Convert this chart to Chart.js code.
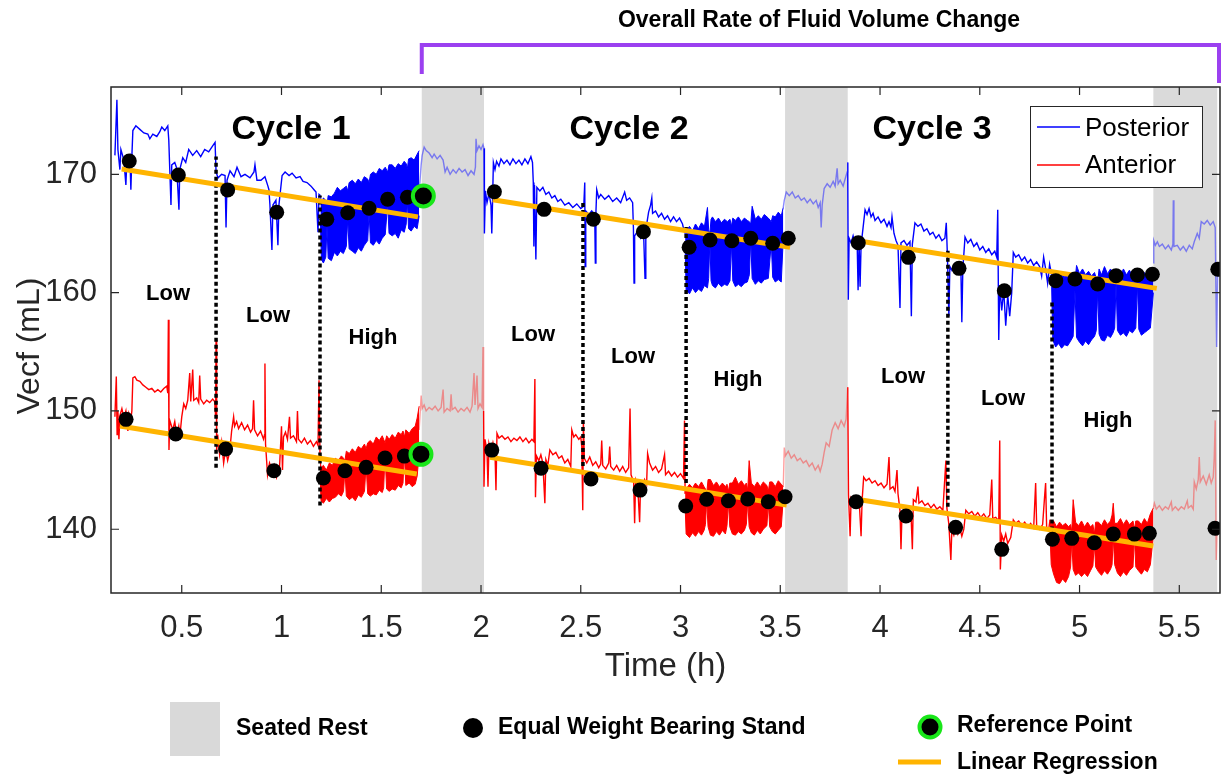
<!DOCTYPE html>
<html>
<head>
<meta charset="utf-8">
<script src="https://cdn.jsdelivr.net/npm/chart.js@4/dist/chart.umd.min.js"></script>
<style>
  body { margin: 0; background: #fff; }
  canvas { display: block; }
</style>
</head>
<body>
<canvas id="vecfChart" width="1225" height="775"></canvas>
<script>
// axis ticks
const xTicks = [0.5, 1, 1.5, 2, 2.5, 3, 3.5, 4, 4.5, 5, 5.5];
const yTicks = [140, 150, 160, 170];

// seated rest periods (h)
const restStart = [1.703, 3.524, 5.37];
const restEnd = [2.015, 3.838, 5.69];

// posterior Vecf trace [time h, mL]
const posteriorC1 = [
  [0.165,171.6],[0.175,176.3],[0.18,172.1],[0.19,170.4],[0.195,172.1],[0.21,171.2],[0.22,169.1],[0.225,171.2],[0.24,171.6],[0.245,168.7],
  [0.25,171.5],[0.255,173.7],[0.27,174.1],[0.29,173.8],[0.31,173.5],[0.33,173.4],[0.34,173.0],[0.355,173.4],[0.375,173.2],[0.39,173.6],
  [0.40,174.0],[0.415,173.7],[0.43,174.1],[0.435,172.9],[0.44,170.4],[0.446,167.4],[0.45,170.8],[0.465,171.0],[0.475,170.5],[0.486,167.0],
  [0.49,170.4],[0.505,171.4],[0.52,171.0],[0.535,172.1],[0.555,171.6],[0.575,172.0],[0.595,171.5],[0.615,172.1],[0.635,171.9],[0.655,172.4],
  [0.667,172.7],[0.672,170.2],[0.682,169.7],[0.70,170.0],[0.717,169.9],[0.722,165.5],[0.727,169.5],[0.742,170.3],[0.762,169.8],[0.777,170.6],
  [0.797,169.8],[0.817,170.0],[0.842,169.7],[0.862,170.2],[0.867,170.8],[0.877,169.5],[0.897,169.5],[0.917,169.8],[0.932,169.0],[0.937,168.7],
  [0.942,167.4],[0.952,163.6],[0.957,167.4],[0.972,167.8],[0.982,164.0],[0.987,167.4],[1.003,169.9],[1.018,170.2],[1.038,169.9],[1.053,170.1],
  [1.073,169.7],[1.093,169.8],[1.108,169.4],[1.128,169.3],[1.148,169.0],[1.163,168.7],[1.173,168.5],[1.183,165.1],[1.188,168.3],[1.195,168.2]
];
// high-load stands: [time, top, bottom]
const posteriorHighC1 = [
  [1.195,168.2,166.0],[1.20,167.6,162.8],[1.21,168.0,162.5],[1.222,167.8,163.0],[1.228,167.4,165.6],[1.234,168.2,162.9],[1.25,168.1,162.7],
  [1.265,168.4,163.4],[1.28,168.9,163.1],[1.295,168.6,163.5],[1.31,168.8,163.3],[1.325,169.0,163.9],[1.332,168.6,166.2],[1.339,169.3,163.7],
  [1.355,169.5,163.5],[1.37,169.2,163.3],[1.385,169.6,163.8],[1.40,169.3,163.5],[1.415,169.8,164.0],[1.432,169.6,164.4],[1.439,169.3,166.8],
  [1.446,170.0,164.2],[1.46,170.2,164.0],[1.475,170.0,164.4],[1.49,170.5,164.1],[1.505,170.3,164.6],[1.52,170.6,164.9],[1.532,170.2,167.5],
  [1.539,170.8,165.0],[1.555,170.8,164.8],[1.57,170.5,165.0],[1.585,170.9,164.6],[1.60,170.7,165.3],[1.615,171.1,165.1],[1.625,170.9,165.8],
  [1.631,170.5,167.7],[1.637,171.3,165.4],[1.65,171.4,165.2],[1.665,171.2,165.6],[1.68,171.7,165.4],[1.69,172.0,166.5]
];
const posteriorRest1 = [
  [1.69,168.5],[1.70,170.8],[1.705,171.6],[1.715,172.3],[1.725,172.0],[1.74,171.8],[1.755,171.4],[1.765,171.7],[1.78,171.3],[1.795,171.6],
  [1.81,171.2],[1.82,170.2],[1.83,170.6],[1.845,170.0],[1.86,170.4],[1.875,170.1],[1.89,170.5],[1.905,170.2],[1.92,170.4],[1.935,169.9],
  [1.95,170.3],[1.965,170.0],[1.972,170.6],[1.975,173.0],[1.98,172.0],[1.99,172.4],[2.0,172.1],[2.01,172.5],[2.015,172.2]
];
const posteriorC2 = [
  [2.015,172.2],[2.017,165.0],[2.022,168.6],[2.03,167.6],[2.04,168.4],[2.05,167.4],[2.054,165.0],[2.058,167.8],[2.062,171.0],[2.07,170.4],
  [2.078,171.1],[2.09,170.7],[2.10,171.3],[2.115,170.9],[2.13,171.2],[2.145,170.8],[2.16,171.3],[2.175,170.9],[2.19,171.2],[2.205,170.8],
  [2.22,171.3],[2.235,170.9],[2.25,171.5],[2.258,171.0],[2.262,169.3],[2.265,163.9],[2.268,169.1],[2.275,162.8],[2.28,168.9],[2.295,168.6],
  [2.31,168.9],[2.325,168.3],[2.34,168.5],[2.355,168.0],[2.37,168.2],[2.385,167.7],[2.40,167.9],[2.42,167.4],[2.44,167.6],[2.46,167.2],
  [2.48,167.5],[2.50,167.1],[2.515,167.3],[2.52,169.3],[2.522,162.2],[2.525,166.9],[2.54,166.6],[2.555,166.9],[2.57,166.5],[2.573,162.5],
  [2.576,166.8],[2.58,168.7],[2.59,168.0],[2.60,168.3],[2.62,167.9],[2.64,168.2],[2.66,167.7],[2.68,168.0],[2.70,167.6],[2.72,168.5],
  [2.73,167.8],[2.745,168.0],[2.76,167.6],[2.764,165.4],[2.767,160.8],[2.77,164.8],[2.785,165.2],[2.80,164.6],[2.815,165.0],[2.822,161.2],
  [2.826,165.3],[2.84,166.8],[2.85,167.4],[2.856,168.0],[2.86,166.7],[2.875,166.9],[2.89,166.4],[2.905,166.7],[2.92,166.2],[2.935,166.5],
  [2.95,166.0],[2.965,166.4],[2.98,166.0],[2.995,166.3],[3.01,165.8],[3.018,165.2],[3.023,165.0]
];
const posteriorHighC2 = [
  [3.023,165.0,164.0],[3.028,165.3,160.2],[3.045,165.6,159.9],[3.06,165.2,160.4],[3.075,165.8,160.0],[3.09,165.4,160.3],[3.105,165.9,160.1],
  [3.12,165.6,160.6],[3.135,167.2,160.4],[3.141,165.3,161.2],[3.147,165.0,164.3],[3.153,166.2,161.0],[3.16,166.4,160.6],[3.175,166.0,160.4],
  [3.19,166.3,160.8],[3.205,165.9,160.5],[3.22,166.2,160.7],[3.235,166.0,160.6],[3.248,166.2,161.0],[3.255,165.6,164.2],[3.262,166.3,161.0],
  [3.275,166.1,160.5],[3.29,166.4,160.7],[3.305,166.0,160.5],[3.32,166.3,160.8],[3.335,166.1,160.9],[3.345,166.0,161.5],[3.352,165.8,164.5],
  [3.359,167.3,161.2],[3.375,166.2,160.7],[3.39,166.5,161.0],[3.405,166.2,160.8],[3.42,166.6,161.1],[3.44,166.3,161.2],[3.455,166.0,164.2],
  [3.462,166.5,161.3],[3.475,166.4,160.9],[3.49,166.8,161.1],[3.505,166.5,160.9],[3.515,167.2,164.6]
];
const posteriorRest2 = [
  [3.515,167.2],[3.52,167.8],[3.53,168.5],[3.545,168.2],[3.56,168.5],[3.575,168.0],[3.59,168.2],[3.605,167.8],[3.62,168.0],[3.635,167.6],
  [3.65,167.9],[3.665,167.5],[3.68,167.8],[3.69,167.2],[3.70,167.6],[3.705,165.5],[3.71,167.4],[3.72,168.8],[3.735,169.2],[3.75,168.9],
  [3.765,169.4],[3.775,169.0],[3.785,170.5],[3.79,169.2],[3.80,169.5],[3.815,169.0],[3.825,169.6],[3.835,170.2],[3.838,171.0]
];
const posteriorC3 = [
  [3.838,171.0],[3.841,159.4],[3.845,164.6],[3.855,164.2],[3.865,164.8],[3.875,164.1],[3.885,164.5],[3.89,160.2],[3.895,164.3],[3.90,160.5],
  [3.905,164.0],[3.915,165.5],[3.925,167.0],[3.935,166.6],[3.945,167.1],[3.955,166.4],[3.965,166.7],[3.975,166.1],[3.99,166.4],[4.005,165.9],
  [4.02,166.2],[4.035,165.6],[4.045,166.0],[4.055,165.5],[4.06,166.4],[4.07,165.0],[4.08,164.4],[4.09,164.0],[4.10,158.7],[4.105,164.2],
  [4.12,164.4],[4.135,164.0],[4.15,164.3],[4.157,158.0],[4.162,164.1],[4.175,165.9],[4.19,165.6],[4.205,165.8],[4.22,165.2],[4.235,165.4],
  [4.25,164.9],[4.265,165.1],[4.28,164.6],[4.295,164.9],[4.31,164.4],[4.325,164.6],[4.332,165.9],[4.338,163.0],[4.345,158.0],[4.35,162.2],
  [4.36,161.9],[4.375,162.4],[4.39,161.8],[4.405,162.2],[4.41,157.5],[4.415,162.0],[4.426,164.7],[4.44,164.2],[4.455,164.5],[4.47,163.9],
  [4.485,164.2],[4.50,163.6],[4.515,163.9],[4.53,163.4],[4.545,163.7],[4.56,163.2],[4.575,163.5],[4.585,163.0],[4.59,167.0],[4.595,156.0],
  [4.60,160.6],[4.61,158.5],[4.62,160.2],[4.63,157.2],[4.64,159.8],[4.65,158.0],[4.66,160.0],[4.668,163.4],[4.68,163.0],[4.695,163.2],
  [4.71,162.7],[4.725,163.0],[4.74,162.5],[4.755,162.8],[4.77,162.3],[4.785,162.6],[4.80,162.2],[4.81,161.4],[4.82,163.0],[4.83,162.0],
  [4.84,160.8],[4.85,162.4],[4.86,161.5]
];
const posteriorHighC3 = [
  [4.86,161.5,160.5],[4.866,161.2,156.0],[4.88,161.6,155.4],[4.895,161.0,155.7],[4.91,161.8,155.3],[4.925,161.3,155.6],[4.94,161.7,155.5],
  [4.955,161.2,155.9],[4.968,161.5,156.3],[4.977,161.0,160.2],[4.985,162.3,156.2],[5.0,161.6,155.8],[5.015,162.0,155.5],[5.03,161.5,155.9],
  [5.045,161.8,155.6],[5.06,161.4,156.0],[5.075,161.7,156.3],[5.084,161.2,156.8],[5.091,160.9,160.2],[5.098,162.0,156.5],[5.11,161.5,156.0],
  [5.125,162.2,155.9],[5.14,161.6,156.4],[5.155,162.0,156.2],[5.168,161.7,156.6],[5.176,161.4,157.0],[5.183,161.2,160.8],[5.19,161.9,156.8],
  [5.205,161.4,156.4],[5.22,162.0,156.6],[5.235,161.5,156.3],[5.25,161.9,156.8],[5.265,161.4,156.6],[5.282,161.6,157.0],[5.29,161.2,160.8],
  [5.297,161.8,156.9],[5.31,161.3,156.4],[5.325,161.7,156.6],[5.34,161.4,156.8],[5.355,161.6,157.0],[5.37,161.8,160.0]
];
const posteriorRest3 = [
  [5.37,162.5],[5.372,164.4],[5.38,164.0],[5.39,164.3],[5.40,163.9],[5.415,164.1],[5.43,163.7],[5.445,164.0],[5.46,163.6],[5.468,164.1],
  [5.47,167.8],[5.473,163.9],[5.49,164.0],[5.505,163.6],[5.52,163.9],[5.535,163.5],[5.55,164.0],[5.565,163.7],[5.575,164.3],[5.59,165.0],
  [5.60,164.6],[5.61,166.0],[5.625,165.8],[5.64,166.1],[5.655,165.7],[5.67,166.0],[5.68,165.5],[5.687,155.4],[5.692,161.5]
];

// anterior Vecf trace [time h, mL]
const anteriorC1 = [
  [0.165,149.5],[0.172,152.9],[0.176,148.0],[0.18,150.0],[0.185,147.6],[0.19,149.6],[0.20,150.2],[0.21,149.4],[0.22,150.0],[0.23,148.3],
  [0.235,149.8],[0.245,149.3],[0.25,150.0],[0.255,152.8],[0.265,152.9],[0.275,152.6],[0.29,152.5],[0.305,152.2],[0.32,152.0],[0.335,151.8],
  [0.35,151.9],[0.365,151.6],[0.38,151.8],[0.395,151.6],[0.41,151.9],[0.425,152.1],[0.43,151.5],[0.433,157.7],[0.436,146.7],[0.44,149.2],
  [0.455,148.4],[0.465,149.1],[0.475,147.9],[0.485,148.7],[0.49,147.8],[0.50,149.5],[0.51,150.6],[0.52,150.2],[0.53,150.9],[0.54,153.2],
  [0.545,150.8],[0.555,153.5],[0.56,150.9],[0.575,151.1],[0.585,150.7],[0.59,153.0],[0.595,151.0],[0.61,150.6],[0.625,150.9],[0.64,150.7],
  [0.655,151.0],[0.665,150.8],[0.67,149.5],[0.672,156.0],[0.675,146.6],[0.68,148.0],[0.69,146.3],[0.70,147.4],[0.71,145.6],[0.72,146.8],
  [0.73,145.8],[0.74,146.5],[0.75,148.3],[0.76,149.5],[0.765,148.7],[0.775,149.1],[0.785,148.5],[0.80,149.0],[0.815,148.4],[0.83,148.8],
  [0.845,148.2],[0.855,148.5],[0.86,150.9],[0.865,148.4],[0.88,147.9],[0.895,148.3],[0.91,147.6],[0.915,148.0],[0.917,154.0],[0.92,147.2],
  [0.93,144.6],[0.94,145.6],[0.955,144.9],[0.965,145.4],[0.975,144.4],[0.99,145.2],[1.0,148.7],[1.005,145.0],[1.01,147.8],[1.02,148.2],
  [1.03,147.6],[1.04,149.5],[1.045,147.7],[1.06,147.9],[1.075,147.4],[1.08,150.0],[1.085,147.6],[1.10,147.3],[1.115,147.7],[1.13,147.2],
  [1.145,147.5],[1.16,147.0],[1.175,147.4],[1.183,147.1],[1.188,152.6],[1.193,146.0]
];
const anteriorHighC1 = [
  [1.193,146.0,144.8],[1.198,145.2,142.4],[1.21,145.4,142.2],[1.225,145.0,142.6],[1.24,145.6,142.3],[1.255,145.4,142.6],[1.27,146.0,142.7],
  [1.285,145.8,143.0],[1.30,146.2,142.8],[1.311,146.0,143.2],[1.318,145.8,145.0],[1.325,146.6,142.8],[1.34,146.4,142.5],[1.355,146.8,142.7],
  [1.37,146.5,142.4],[1.385,147.0,142.9],[1.40,146.8,142.7],[1.416,147.2,143.2],[1.424,146.8,145.4],[1.432,147.3,143.0],[1.445,147.5,142.8],
  [1.46,147.2,143.0],[1.475,147.8,142.9],[1.49,147.5,143.3],[1.505,147.9,143.1],[1.512,147.6,143.5],[1.519,147.3,146.2],[1.527,147.9,143.4],
  [1.54,147.6,143.2],[1.555,148.0,143.4],[1.57,147.7,143.3],[1.585,148.2,143.7],[1.60,148.0,143.5],[1.609,148.3,143.9],[1.616,147.8,146.4],
  [1.623,148.4,143.7],[1.64,148.1,143.9],[1.655,148.5,143.6],[1.67,148.7,143.8],[1.68,149.4,144.5],[1.69,150.4,146.4]
];
const anteriorRest1 = [
  [1.69,148.4],[1.70,151.3],[1.705,150.2],[1.715,150.5],[1.725,150.0],[1.74,150.3],[1.755,150.1],[1.77,150.4],[1.785,150.0],[1.80,150.3],
  [1.81,151.8],[1.815,149.9],[1.83,150.2],[1.845,150.0],[1.85,151.4],[1.855,150.1],[1.87,150.3],[1.885,149.9],[1.90,150.2],[1.915,150.0],
  [1.93,150.3],[1.945,149.9],[1.955,150.4],[1.965,153.2],[1.97,150.5],[1.98,153.0],[1.985,150.2],[1.995,150.6],[2.005,150.3],[2.01,155.4],
  [2.013,150.0]
];
const anteriorC2 = [
  [2.013,150.0],[2.015,143.6],[2.02,147.6],[2.03,146.6],[2.035,143.6],[2.04,147.2],[2.05,146.4],[2.06,147.3],[2.07,146.5],[2.075,143.3],
  [2.08,148.1],[2.09,147.7],[2.105,147.9],[2.12,147.6],[2.135,147.8],[2.15,147.4],[2.165,147.7],[2.18,147.5],[2.195,147.8],[2.21,147.4],
  [2.225,147.7],[2.24,147.3],[2.255,147.6],[2.265,147.4],[2.27,152.7],[2.273,142.7],[2.278,146.2],[2.29,145.8],[2.30,146.3],[2.31,145.6],
  [2.32,142.2],[2.325,145.9],[2.335,145.4],[2.345,146.7],[2.36,146.3],[2.375,146.5],[2.39,146.0],[2.405,146.2],[2.42,145.6],[2.435,145.9],
  [2.45,145.3],[2.455,148.4],[2.465,147.8],[2.475,148.0],[2.49,147.6],[2.50,147.8],[2.505,147.0],[2.51,141.6],[2.513,149.2],[2.518,146.0],
  [2.53,145.6],[2.545,146.1],[2.56,145.4],[2.575,145.7],[2.59,145.2],[2.60,145.5],[2.605,147.5],[2.61,145.4],[2.625,145.1],[2.64,145.6],
  [2.645,147.0],[2.65,145.3],[2.665,145.0],[2.68,145.4],[2.695,144.9],[2.71,145.3],[2.725,144.8],[2.74,145.2],[2.747,150.2],[2.752,144.6],
  [2.765,144.0],[2.77,140.5],[2.775,144.2],[2.785,143.8],[2.795,140.6],[2.80,144.0],[2.81,143.6],[2.82,144.2],[2.83,143.8],[2.835,146.4],
  [2.845,145.6],[2.86,145.0],[2.875,145.3],[2.89,144.8],[2.905,145.1],[2.92,146.3],[2.925,144.6],[2.94,144.9],[2.955,144.5],[2.97,144.8],
  [2.985,144.4],[3.00,144.7],[3.015,144.3],[3.02,149.2],[3.023,143.0]
];
const anteriorHighC2 = [
  [3.023,143.0,142.0],[3.028,143.4,139.6],[3.045,143.8,139.3],[3.06,143.5,139.7],[3.075,143.9,139.4],[3.09,143.6,139.8],[3.105,144.0,139.5],
  [3.118,143.6,139.9],[3.125,143.4,140.4],[3.131,143.0,142.4],[3.138,144.2,140.2],[3.15,144.2,139.5],[3.165,143.7,139.4],[3.18,144.0,139.8],
  [3.195,143.6,139.5],[3.21,143.9,139.9],[3.225,143.6,139.6],[3.233,143.8,140.3],[3.24,143.2,142.3],[3.247,143.9,140.2],[3.26,143.9,139.6],
  [3.275,144.4,139.5],[3.29,143.8,139.8],[3.305,144.1,139.6],[3.32,143.7,139.9],[3.33,143.9,140.4],[3.337,143.3,142.4],[3.344,145.8,140.2],
  [3.355,143.9,139.7],[3.37,143.6,139.5],[3.385,144.0,139.9],[3.40,143.6,139.6],[3.415,144.0,140.0],[3.433,143.7,140.3],[3.44,143.2,142.2],
  [3.447,144.0,140.2],[3.46,144.0,139.8],[3.475,143.6,139.6],[3.49,144.1,139.9],[3.505,143.8,140.2],[3.515,143.6,142.6]
];
const anteriorRest2 = [
  [3.515,143.6],[3.52,146.9],[3.525,146.2],[3.54,146.6],[3.555,146.0],[3.57,146.3],[3.585,145.8],[3.60,146.0],[3.615,145.6],[3.63,145.8],
  [3.645,145.3],[3.66,145.6],[3.675,145.0],[3.69,145.4],[3.70,144.9],[3.71,145.5],[3.72,146.5],[3.73,147.3],[3.745,147.0],[3.76,148.4],
  [3.775,149.0],[3.79,148.5],[3.805,149.2],[3.82,148.7],[3.83,149.3],[3.838,152.0]
];
const anteriorC3 = [
  [3.838,152.0],[3.842,142.9],[3.85,139.4],[3.855,142.6],[3.865,142.2],[3.875,142.7],[3.885,142.3],[3.895,142.6],[3.905,139.4],[3.91,142.4],
  [3.918,144.4],[3.93,144.1],[3.945,144.3],[3.96,143.9],[3.975,144.1],[3.99,143.7],[4.005,143.9],[4.02,143.5],[4.035,143.8],[4.045,146.1],
  [4.05,143.4],[4.065,143.6],[4.075,143.2],[4.085,145.0],[4.09,143.0],[4.10,141.6],[4.105,138.3],[4.11,141.3],[4.125,141.6],[4.14,141.1],
  [4.155,141.4],[4.162,138.3],[4.167,142.5],[4.18,142.3],[4.19,143.6],[4.195,142.2],[4.21,142.4],[4.225,142.0],[4.24,142.2],[4.255,141.8],
  [4.27,142.1],[4.285,141.7],[4.30,141.9],[4.315,141.6],[4.33,145.8],[4.335,141.8],[4.345,140.4],[4.355,137.4],[4.36,140.0],[4.37,139.5],
  [4.38,140.3],[4.39,139.6],[4.40,140.1],[4.41,139.4],[4.42,140.0],[4.43,141.6],[4.445,141.3],[4.46,141.5],[4.475,141.1],[4.49,141.4],
  [4.505,141.0],[4.52,141.3],[4.535,140.9],[4.55,141.2],[4.56,144.2],[4.565,140.9],[4.58,141.0],[4.595,140.7],[4.60,147.5],[4.603,136.6],
  [4.61,139.5],[4.62,139.0],[4.63,139.6],[4.64,138.8],[4.655,139.3],[4.668,140.8],[4.68,140.5],[4.695,140.7],[4.71,140.3],[4.725,140.6],
  [4.74,140.2],[4.755,140.5],[4.77,140.1],[4.78,143.9],[4.785,140.3],[4.80,140.0],[4.815,140.4],[4.825,142.8],[4.83,143.9],[4.835,140.2],
  [4.845,139.9],[4.852,140.8]
];
const anteriorHighC3 = [
  [4.852,140.8,139.6],[4.858,140.4,137.0],[4.87,140.7,136.2],[4.885,140.2,135.5],[4.90,140.6,135.4],[4.915,140.3,135.8],[4.93,140.5,135.5],
  [4.945,140.2,136.0],[4.955,140.4,136.8],[4.961,139.8,139.0],[4.968,142.5,136.6],[4.98,140.6,136.1],[4.995,140.3,136.3],[5.01,140.7,136.0],
  [5.025,140.2,136.3],[5.04,140.6,136.0],[5.055,140.2,136.5],[5.067,140.4,136.9],[5.074,139.6,138.8],[5.081,140.6,136.8],[5.095,140.6,136.4],
  [5.11,140.3,136.1],[5.125,140.8,136.5],[5.14,140.4,136.2],[5.155,140.7,136.6],[5.163,141.2,137.0],[5.169,142.2,139.3],[5.176,140.5,137.0],
  [5.19,140.5,136.3],[5.205,140.9,136.0],[5.22,140.4,136.4],[5.235,140.8,136.1],[5.25,140.4,136.5],[5.268,140.7,136.8],[5.275,140.0,139.3],
  [5.282,140.7,136.8],[5.295,140.7,136.5],[5.31,140.4,136.2],[5.325,140.9,136.6],[5.34,140.5,136.4],[5.355,141.3,137.0],[5.37,141.8,139.5]
];
const anteriorRest3 = [
  [5.37,141.8],[5.375,142.2],[5.385,141.7],[5.40,142.0],[5.415,141.6],[5.43,141.9],[5.445,141.7],[5.46,142.3],[5.465,141.6],[5.48,141.9],
  [5.495,141.6],[5.51,141.9],[5.525,141.7],[5.54,142.4],[5.545,141.8],[5.56,142.0],[5.57,141.7],[5.575,144.0],[5.585,143.4],[5.595,144.2],
  [5.60,146.1],[5.605,144.0],[5.62,144.5],[5.635,143.8],[5.65,144.6],[5.66,143.9],[5.67,144.4],[5.675,146.0],[5.68,149.2],[5.685,137.4],
  [5.69,140.5]
];

// equal weight bearing stand measurements
const posteriorStands = [
  [0.237,171.12],[0.483,169.94],[0.730,168.68],[0.976,166.79],[1.227,166.20],[1.332,166.75],[1.439,167.13],[1.532,167.89],[1.631,168.06],
  [2.067,168.53],[2.316,167.04],[2.563,166.20],[2.814,165.15],[3.043,163.83],[3.148,164.45],[3.257,164.39],[3.352,164.59],[3.462,164.17],[3.540,164.59],
  [3.891,164.22],[4.142,162.98],[4.396,162.05],[4.623,160.16],[4.881,161.01],[4.977,161.15],[5.091,160.73],[5.183,161.43],[5.290,161.49],[5.365,161.55],
  [5.693,161.97]
];
const anteriorStands = [
  [0.221,149.29],[0.470,148.05],[0.720,146.78],[0.962,144.94],[1.210,144.33],[1.318,144.94],[1.424,145.23],[1.519,146.02],[1.616,146.18],
  [2.054,146.69],[2.301,145.15],[2.551,144.24],[2.797,143.31],[3.026,141.96],[3.131,142.53],[3.240,142.41],[3.337,142.55],[3.440,142.32],[3.524,142.75],
  [3.880,142.32],[4.130,141.12],[4.379,140.16],[4.610,138.30],[4.864,139.15],[4.961,139.23],[5.074,138.86],[5.169,139.59],[5.275,139.59],[5.350,139.65],
  [5.679,140.08]
];
const referencePoints = [[1.711,168.17],[1.699,146.33]];

// linear regression per cycle: [t0, v0, t1, v1]
const posteriorFit = [[0.199,170.45,1.684,166.4],[2.059,167.85,3.549,163.83],[3.896,164.36,5.387,160.36]];
const anteriorFit = [[0.19,148.73,1.678,144.67],[2.045,146.08,3.532,142.04],[3.883,142.53,5.37,138.58]];

// boundaries between stand phases: [t, from, to]
const stageDividers = [[0.672,145.2,171.5],[1.193,142.0,168.2],[2.511,145.35,167.7],[3.028,143.9,165.7],[4.34,141.9,163.8],[4.862,139.9,159.4]];

const cycleNames = ['Cycle 1', 'Cycle 2', 'Cycle 3'];
const stageNames = ['Low', 'Low', 'High', 'Low', 'Low', 'High', 'Low', 'Low', 'High'];

const BLUE = '#0000ff', RED = '#ff0000';
const BLUE_LIGHT = 'rgba(40,40,255,0.55)', RED_LIGHT = 'rgba(255,40,40,0.45)';
const ORANGE = '#ffb400';
const FONT = '"Liberation Sans", Arial, sans-serif';

const datasets = [];
const trace = (data, color) => datasets.push({
    data, borderColor: color, borderWidth: 1.4, pointRadius: 0, fill: false, order: 6
});
const band = (rows, color) => {
    datasets.push({ data: rows.map(r => [r[0], r[2]]), borderColor: color, borderWidth: 1, pointRadius: 0, fill: false, order: 5 });
    datasets.push({ data: rows.map(r => [r[0], r[1]]), borderColor: color, borderWidth: 1, pointRadius: 0,
        fill: '-1', backgroundColor: color, order: 5 });
};

trace(posteriorC1, BLUE); band(posteriorHighC1, BLUE); trace(posteriorRest1, BLUE_LIGHT);
trace(posteriorC2, BLUE); band(posteriorHighC2, BLUE); trace(posteriorRest2, BLUE_LIGHT);
trace(posteriorC3, BLUE); band(posteriorHighC3, BLUE); trace(posteriorRest3, BLUE_LIGHT);
trace(anteriorC1, RED); band(anteriorHighC1, RED); trace(anteriorRest1, RED_LIGHT);
trace(anteriorC2, RED); band(anteriorHighC2, RED); trace(anteriorRest2, RED_LIGHT);
trace(anteriorC3, RED); band(anteriorHighC3, RED); trace(anteriorRest3, RED_LIGHT);

stageDividers.forEach(d => datasets.push({
    data: [[d[0], d[1]], [d[0], d[2]]], borderColor: '#000', borderWidth: 3.5, borderDash: [4, 3],
    borderCapStyle: 'butt', pointRadius: 0, fill: false, order: 3
}));

posteriorFit.concat(anteriorFit).forEach(f => datasets.push({
    data: [[f[0], f[1]], [f[2], f[3]]], borderColor: ORANGE, borderWidth: 5, pointRadius: 0, fill: false, order: 2
}));

datasets.push({
    data: posteriorStands.concat(anteriorStands), showLine: false, pointRadius: 7.5,
    pointBackgroundColor: '#000', pointBorderColor: '#000', pointBorderWidth: 0, order: 1
});
datasets.push({
    data: referencePoints, showLine: false, pointRadius: 10.5,
    pointBackgroundColor: '#000', pointBorderColor: '#19e619', pointBorderWidth: 4, order: 0
});

const text = (ctx, str, x, y, font, align, color) => {
    ctx.font = font;
    ctx.textAlign = align || 'center';
    ctx.textBaseline = 'middle';
    ctx.fillStyle = color || '#000';
    ctx.fillText(str, x, y);
};

const decorations = {
    id: 'decorations',
    beforeDatasetsDraw(chart) {
        const { ctx, chartArea: a, scales: { x } } = chart;
        ctx.save();
        ctx.fillStyle = '#dadada';
        restStart.forEach((s, i) => {
            const x0 = x.getPixelForValue(s), x1 = x.getPixelForValue(restEnd[i]);
            ctx.fillRect(x0, a.top, x1 - x0, a.bottom - a.top);
        });
        ctx.restore();
    },
    afterDatasetsDraw(chart) {
        const { ctx, chartArea: a, scales: { x, y } } = chart;
        ctx.save();

        // axes box and inward ticks
        ctx.strokeStyle = '#262626';
        ctx.lineWidth = 1.5;
        ctx.strokeRect(a.left, a.top, a.right - a.left, a.bottom - a.top);
        ctx.lineWidth = 1.2;
        ctx.beginPath();
        xTicks.forEach(v => {
            const px = x.getPixelForValue(v);
            ctx.moveTo(px, a.bottom); ctx.lineTo(px, a.bottom - 8);
            ctx.moveTo(px, a.top); ctx.lineTo(px, a.top + 8);
        });
        yTicks.forEach(v => {
            const py = y.getPixelForValue(v);
            ctx.moveTo(a.left, py); ctx.lineTo(a.left + 8, py);
            ctx.moveTo(a.right, py); ctx.lineTo(a.right - 8, py);
        });
        ctx.stroke();

        // tick labels and axis titles
        xTicks.forEach(v => text(ctx, String(v), x.getPixelForValue(v), 628, '31px ' + FONT, 'center', '#262626'));
        yTicks.forEach(v => text(ctx, String(v), a.left - 14, y.getPixelForValue(v), '31px ' + FONT, 'right', '#262626'));
        text(ctx, 'Time (h)', (a.left + a.right) / 2, 667, '33px ' + FONT, 'center', '#262626');
        ctx.save();
        ctx.translate(30, 346);
        ctx.rotate(-Math.PI / 2);
        text(ctx, 'Vecf (mL)', 0, 0, '32px ' + FONT, 'center', '#262626');
        ctx.restore();

        // cycle and stage annotations
        [291, 629, 932].forEach((cx, i) => text(ctx, cycleNames[i], cx, 130, 'bold 34px ' + FONT));
        const stagePos = [[168, 294], [268, 316], [373, 338], [533, 335], [633, 357], [738, 380], [903, 377], [1003, 399], [1108, 421]];
        stagePos.forEach((p, i) => text(ctx, stageNames[i], p[0], p[1], 'bold 22px ' + FONT));

        // in-plot legend
        ctx.fillStyle = '#fff';
        ctx.fillRect(1030, 106, 172, 81);
        ctx.strokeStyle = '#262626';
        ctx.lineWidth = 1;
        ctx.strokeRect(1030.5, 106.5, 172, 81);
        ctx.lineWidth = 1.5;
        ctx.strokeStyle = BLUE;
        ctx.beginPath(); ctx.moveTo(1037, 127); ctx.lineTo(1080, 127); ctx.stroke();
        ctx.strokeStyle = RED;
        ctx.beginPath(); ctx.moveTo(1037, 165); ctx.lineTo(1080, 165); ctx.stroke();
        text(ctx, 'Posterior', 1085, 129, '26px ' + FONT, 'left', '#000');
        text(ctx, 'Anterior', 1085, 166, '26px ' + FONT, 'left', '#000');

        // overall-rate bracket
        const bx0 = x.getPixelForValue(restStart[0]), bx1 = a.right;
        ctx.strokeStyle = '#9b40f0';
        ctx.lineWidth = 4;
        ctx.beginPath();
        ctx.moveTo(bx0, 74); ctx.lineTo(bx0, 45); ctx.lineTo(bx1 - 1, 45); ctx.lineTo(bx1 - 1, 83);
        ctx.stroke();
        text(ctx, 'Overall Rate of Fluid Volume Change', 819, 21, 'bold 23px ' + FONT);

        // bottom legend
        ctx.fillStyle = '#d9d9d9';
        ctx.fillRect(170, 702, 50, 54);
        text(ctx, 'Seated Rest', 236, 729, 'bold 23px ' + FONT, 'left');
        ctx.fillStyle = '#000';
        ctx.beginPath(); ctx.arc(473, 728, 10, 0, Math.PI * 2); ctx.fill();
        text(ctx, 'Equal Weight Bearing Stand', 498, 728, 'bold 23px ' + FONT, 'left');
        ctx.beginPath(); ctx.arc(930, 727, 10.5, 0, Math.PI * 2); ctx.fill();
        ctx.strokeStyle = '#19e619';
        ctx.lineWidth = 4;
        ctx.stroke();
        text(ctx, 'Reference Point', 957, 726, 'bold 23px ' + FONT, 'left');
        ctx.strokeStyle = ORANGE;
        ctx.lineWidth = 5;
        ctx.beginPath(); ctx.moveTo(898, 762); ctx.lineTo(941, 762); ctx.stroke();
        text(ctx, 'Linear Regression', 957, 763, 'bold 23px ' + FONT, 'left');

        ctx.restore();
    }
};

new Chart(document.getElementById('vecfChart').getContext('2d'), {
    type: 'line',
    data: { datasets },
    options: {
        responsive: false,
        animation: false,
        devicePixelRatio: 1,
        events: [],
        layout: { autoPadding: false, padding: { left: 111, top: 87, right: 5, bottom: 182 } },
        scales: {
            x: { type: 'linear', min: 0.1454, max: 5.704, display: false },
            y: { type: 'linear', min: 134.61, max: 177.38, display: false }
        },
        plugins: {
            legend: { display: false },
            tooltip: { enabled: false }
        }
    },
    plugins: [decorations]
});
</script>
</body>
</html>
